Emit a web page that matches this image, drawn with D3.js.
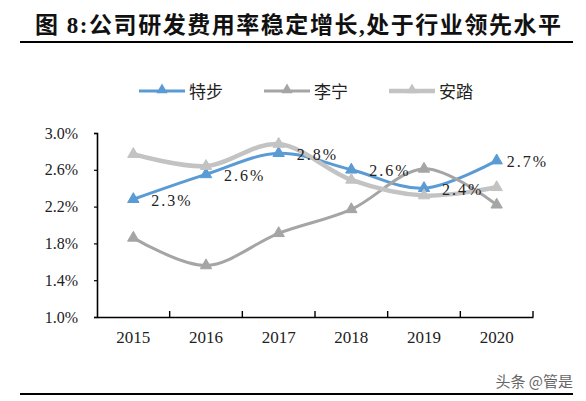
<!DOCTYPE html>
<html>
<head>
<meta charset="utf-8">
<script src="https://cdn.jsdelivr.net/npm/d3@7"></script>
<style>
  html, body { margin: 0; padding: 0; background: #fff; }
  svg { display: block; }
</style>
</head>
<body>
<div id="chart"></div>
<script>
//--------------------------------------------------
// Datos
//--------------------------------------------------
const years  = ["2015", "2016", "2017", "2018", "2019", "2020"];
const xtep   = [2.28, 2.55, 2.78, 2.60, 2.40, 2.70]; // 特步
const lining = [1.86, 1.56, 1.91, 2.17, 2.61, 2.22]; // 李宁
const anta   = [2.77, 2.64, 2.88, 2.49, 2.32, 2.41]; // 安踏
const xtepLabels = ["2.3%", "2.6%", "2.8%", "2.6%", "2.4%", "2.7%"];
const yTicks = [1.0, 1.4, 1.8, 2.2, 2.6, 3.0];
const seriesNames = ["特步", "李宁", "安踏"];

const TITLE = "图 8:公司研发费用率稳定增长,处于行业领先水平";
const WATERMARK = "头条 @管是";

//--------------------------------------------------
// Estilo
//--------------------------------------------------
const W = 586, H = 401;
const FONT = "'Liberation Serif', 'Noto Sans CJK SC', serif";
const COLORS = ["#5b9bd5", "#a5a5a5", "#c3c3c3"];
const WIDTHS = [3, 3, 4.5];

const svg = d3.select("#chart")
  .append("svg")
  .attr("width", W)
  .attr("height", H)
  .style("background", "#fff");

// título
svg.append("text")
  .attr("x", 35)
  .attr("y", 33)
  .attr("textLength", 526)
  .attr("lengthAdjust", "spacing")
  .attr("font-family", FONT)
  .attr("font-size", 23)
  .attr("font-weight", "bold")
  .attr("fill", "#111")
  .text(TITLE);

svg.append("line")
  .attr("x1", 20).attr("x2", 573)
  .attr("y1", 42).attr("y2", 42)
  .attr("stroke", "#000").attr("stroke-width", 2.2);

svg.append("line")
  .attr("x1", 20).attr("x2", 573)
  .attr("y1", 394).attr("y2", 394)
  .attr("stroke", "#000").attr("stroke-width", 2.2);

//--------------------------------------------------
// Escalas
//--------------------------------------------------
const x = d3.scaleBand().domain(years).range([97, 533]).padding(0);
const y = d3.scaleLinear().domain([1.0, 3.0]).range([317, 133]);
const cx = d => x(d) + x.bandwidth() / 2;

const g = svg.append("g");

// eje Y
const yAxis = g.append("g")
  .attr("transform", "translate(97,0)")
  .call(d3.axisLeft(y).tickValues(yTicks).tickSize(3).tickPadding(16)
    .tickFormat(d => d.toFixed(1) + "%"));
yAxis.select(".domain").attr("stroke", "#000").attr("stroke-width", 1.6);
yAxis.selectAll(".tick line").attr("stroke", "#000").attr("stroke-width", 1.2);
yAxis.selectAll("text")
  .attr("font-family", FONT).attr("font-size", 16).attr("fill", "#222");

// eje X
const xAxis = g.append("g")
  .attr("transform", "translate(0,317)")
  .call(d3.axisBottom(x).tickSize(0).tickPadding(14));
xAxis.select(".domain").attr("stroke", "#000").attr("stroke-width", 1.6);
xAxis.selectAll("text")
  .attr("font-family", FONT).attr("font-size", 17).attr("fill", "#222");

// marcas entre categorías (hacia dentro)
g.append("g")
  .selectAll("line")
  .data(years.slice(1).map(d => x(d)).concat([x.range()[1]]))
  .enter()
  .append("line")
  .attr("x1", d => d).attr("x2", d => d)
  .attr("y1", 317).attr("y2", 311)
  .attr("stroke", "#000").attr("stroke-width", 1.4);

//--------------------------------------------------
// Series
//--------------------------------------------------
const series = [xtep, lining, anta];
const line = d3.line()
  .x((d, i) => cx(years[i]))
  .y(d => y(d))
  .curve(d3.curveCardinal.tension(0));

const tri = d3.symbol().type(d3.symbolTriangle).size(56);

series.forEach((vals, s) => {
  g.append("path")
    .datum(vals)
    .attr("fill", "none")
    .attr("stroke", COLORS[s])
    .attr("stroke-width", WIDTHS[s])
    .attr("stroke-linecap", "round")
    .attr("d", line);

  g.append("g")
    .selectAll("path")
    .data(vals)
    .enter()
    .append("path")
    .attr("d", tri)
    .attr("fill", COLORS[s])
    .attr("stroke", COLORS[s])
    .attr("stroke-width", 1)
    .attr("stroke-linejoin", "round")
    .attr("transform", (d, i) => `translate(${cx(years[i])},${y(d)})`);
});

// etiquetas de 特步
g.append("g")
  .selectAll("text")
  .data(xtep)
  .enter()
  .append("text")
  .attr("x", (d, i) => cx(years[i]) + (i === years.length - 1 ? 10 : 18))
  .attr("y", d => y(d) + 1)
  .attr("dominant-baseline", "central")
  .attr("font-family", FONT)
  .attr("font-size", 16)
  .attr("letter-spacing", 2)
  .attr("fill", "#222")
  .text((d, i) => xtepLabels[i]);

//--------------------------------------------------
// Leyenda
//--------------------------------------------------
const leg = svg.append("g")
  .selectAll("g")
  .data(seriesNames)
  .enter()
  .append("g")
  .attr("transform", (d, i) => `translate(${139 + i * 125},91)`);

leg.append("line")
  .attr("x1", 0).attr("x2", 46)
  .attr("y1", 0).attr("y2", 0)
  .attr("stroke", (d, i) => COLORS[i])
  .attr("stroke-width", (d, i) => WIDTHS[i]);

leg.append("path")
  .attr("d", tri)
  .attr("transform", "translate(23,-1)")
  .attr("fill", (d, i) => COLORS[i]);

leg.append("text")
  .attr("x", 50)
  .attr("y", 1)
  .attr("dominant-baseline", "central")
  .attr("font-family", FONT)
  .attr("font-size", 17)
  .attr("fill", "#222")
  .text(d => d);

// marca de agua
svg.append("text")
  .attr("x", 573)
  .attr("y", 387)
  .attr("text-anchor", "end")
  .attr("font-family", "'Noto Sans CJK SC', sans-serif")
  .attr("font-size", 15)
  .attr("fill", "#666")
  .text(WATERMARK);
</script>
</body>
</html>
